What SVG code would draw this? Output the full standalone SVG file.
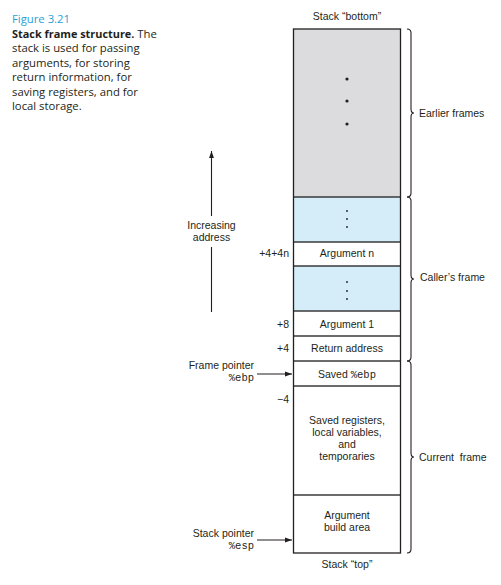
<svg xmlns="http://www.w3.org/2000/svg" width="501" height="585" viewBox="0 0 501 585">
<style>
  .cap { font-family: "Open Sans", "Noto Sans", sans-serif; font-size: 11.3px; fill: #231f20; }
  .fig { font-family: "Open Sans", "Noto Sans", sans-serif; font-size: 11.3px; fill: #2a9fd8; }
  .lbl { font-family: "Liberation Sans", Arial, sans-serif; font-size: 10.5px; fill: #231f20; }
  .mono { font-family: "Liberation Mono", "DejaVu Sans Mono", monospace; font-size: 10.5px; fill: #231f20; }
  .cell { stroke: #231f20; stroke-width: 1.3; }
  .sep { stroke: #3a3a3a; stroke-width: 1.4; }
  .brace { fill: none; stroke: #231f20; stroke-width: 1.1; }
  .arr { stroke: #231f20; stroke-width: 1.1; fill: none; }
</style>
<defs>
  <marker id="ah" viewBox="0 0 10 10" refX="10" refY="5" markerWidth="7" markerHeight="7" markerUnits="userSpaceOnUse" orient="auto">
    <path d="M0,1.5 L10,5 L0,8.5 Z" fill="#231f20"/>
  </marker>
</defs>

<g id="caption">
  <text class="fig" x="12" y="23">Figure 3.21</text>
  <text class="cap" x="12" y="37.5"><tspan font-weight="bold" font-size="10.9px">Stack frame structure.</tspan> The</text>
  <text class="cap" x="12" y="52">stack is used for passing</text>
  <text class="cap" x="12" y="66.5">arguments, for storing</text>
  <text class="cap" x="12" y="81">return information, for</text>
  <text class="cap" x="12" y="95.5">saving registers, and for</text>
  <text class="cap" x="12" y="110">local storage.</text>
</g>

<g id="stack-bottom-label"><text class="lbl" x="347" y="20" text-anchor="middle">Stack “bottom”</text></g>
<g id="stack-top-label"><text class="lbl" x="347" y="568" text-anchor="middle">Stack “top”</text></g>

<g id="earlier-frames-cell">
  <rect x="293.5" y="29" width="107" height="168" fill="#dcdcde"/>
  <circle cx="347" cy="79" r="1.6" fill="#231f20"/>
  <circle cx="347" cy="101" r="1.6" fill="#231f20"/>
  <circle cx="347" cy="124" r="1.6" fill="#231f20"/>
</g>
<g id="blue-cell-1">
  <rect x="293.5" y="197" width="107" height="45" fill="#d4edf9"/>
  <circle cx="347" cy="211" r="0.9" fill="#231f20"/>
  <circle cx="347" cy="219" r="0.9" fill="#231f20"/>
  <circle cx="347" cy="227" r="0.9" fill="#231f20"/>
</g>
<g id="argument-n">
  <text class="lbl" x="347" y="257" text-anchor="middle">Argument n</text>
</g>
<g id="blue-cell-2">
  <rect x="293.5" y="266" width="107" height="45" fill="#d4edf9"/>
  <circle cx="347" cy="282" r="0.9" fill="#231f20"/>
  <circle cx="347" cy="291" r="0.9" fill="#231f20"/>
  <circle cx="347" cy="299" r="0.9" fill="#231f20"/>
</g>
<g id="argument-1">
  <text class="lbl" x="347" y="328" text-anchor="middle">Argument 1</text>
</g>
<g id="return-address">
  <text class="lbl" x="347" y="352" text-anchor="middle">Return address</text>
</g>
<g id="saved-ebp">
  <text class="lbl" x="347" y="378" text-anchor="middle">Saved <tspan class="mono">%ebp</tspan></text>
</g>
<g id="saved-registers">
  <text class="lbl" x="347" y="424" text-anchor="middle">Saved registers,</text>
  <text class="lbl" x="347" y="436" text-anchor="middle">local variables,</text>
  <text class="lbl" x="347" y="448" text-anchor="middle">and</text>
  <text class="lbl" x="347" y="460" text-anchor="middle">temporaries</text>
</g>
<g id="argument-build-area">
  <text class="lbl" x="347" y="519" text-anchor="middle">Argument</text>
  <text class="lbl" x="347" y="531" text-anchor="middle">build area</text>
</g>

<g id="cell-lines">
  <line class="sep" x1="293.5" y1="197" x2="400.5" y2="197"/>
  <line class="sep" x1="293.5" y1="242" x2="400.5" y2="242"/>
  <line class="sep" x1="293.5" y1="266" x2="400.5" y2="266"/>
  <line class="sep" x1="293.5" y1="311" x2="400.5" y2="311"/>
  <line class="sep" x1="293.5" y1="336" x2="400.5" y2="336"/>
  <line class="sep" x1="293.5" y1="361" x2="400.5" y2="361"/>
  <line class="sep" x1="293.5" y1="386" x2="400.5" y2="386"/>
  <line class="sep" x1="293.5" y1="495" x2="400.5" y2="495"/>
  <rect class="cell" x="293.5" y="29" width="107" height="524" fill="none"/>
</g>

<g id="offsets">
  <text class="lbl" x="289" y="257" text-anchor="end">+4+4n</text>
  <text class="lbl" x="289" y="328" text-anchor="end">+8</text>
  <text class="lbl" x="289" y="352" text-anchor="end">+4</text>
  <text class="lbl" x="289" y="403" text-anchor="end">−4</text>
</g>

<g id="frame-pointer">
  <text class="lbl" x="254" y="369" text-anchor="end">Frame pointer</text>
  <text class="mono" x="254" y="381" text-anchor="end">%ebp</text>
</g>
<g id="stack-pointer">
  <text class="lbl" x="254" y="537" text-anchor="end">Stack pointer</text>
  <text class="mono" x="254" y="549" text-anchor="end">%esp</text>
</g>
<g id="increasing-address">
  <text class="lbl" x="211.5" y="229" text-anchor="middle">Increasing</text>
  <text class="lbl" x="211.5" y="241" text-anchor="middle">address</text>
</g>

<g id="labels-right">
  <text class="lbl" x="419" y="117">Earlier frames</text>
  <text class="lbl" x="420" y="281">Caller’s frame</text>
  <text class="lbl" x="419" y="461" xml:space="preserve">Current  frame</text>
</g>

<g id="connectors">
  <line class="arr" x1="211.5" y1="216" x2="211.5" y2="151" marker-end="url(#ah)"/>
  <line class="arr" x1="211.5" y1="247" x2="211.5" y2="312"/>
  <line class="arr" x1="257" y1="374" x2="292" y2="374" marker-end="url(#ah)"/>
  <line class="arr" x1="257" y1="540" x2="292" y2="540" marker-end="url(#ah)"/>
  <path class="brace" d="M407,29 Q411,29 411,33 L411,109 Q411,113 414,113 Q411,113 411,117 L411,193 Q411,197 407,197"/>
  <path class="brace" d="M407,197 Q411,197 411,201 L411,275 Q411,279 414,279 Q411,279 411,283 L411,357 Q411,361 407,361"/>
  <path class="brace" d="M407,361 Q411,361 411,365 L411,453 Q411,457 414,457 Q411,457 411,461 L411,549 Q411,553 407,553"/>
</g>
</svg>
